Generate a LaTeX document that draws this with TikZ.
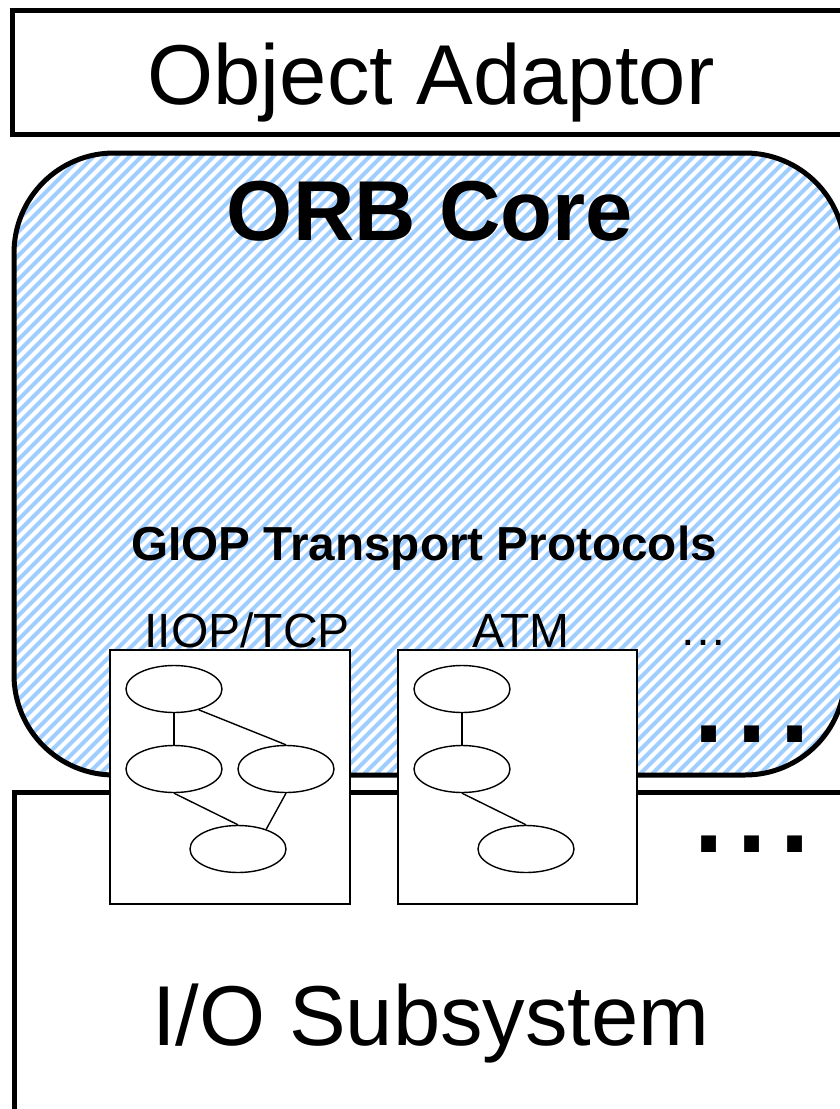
\documentclass[tikz,border=0pt]{standalone}
\usepackage{fontspec}
\usetikzlibrary{shapes.geometric}
\setmainfont{Liberation Sans}
\definecolor{hatch}{RGB}{160,207,255}
\begin{document}
\begin{tikzpicture}[x=1pt,y=-1pt,
  thickbox/.style={draw=black,line width=5pt,fill=white},
  protobox/.style={draw=black,line width=2pt,fill=white},
  ell/.style={draw=black,line width=1.4pt,ellipse,minimum width=96pt,minimum height=47pt,inner sep=0pt},
  edge/.style={draw=black,line width=1.4pt},
  lbl/.style={inner sep=0pt,anchor=base},
  bigdots/.style={lbl,font=\fontsize{155}{160}\selectfont,text height=14pt,text depth=0pt}]
\useasboundingbox (0,0) rectangle (840,1109);
\fill[white] (0,0) rectangle (840,1109);
% Object Adaptor
\draw[thickbox] (12,10) rectangle (860,134);
\node[lbl,font=\fontsize{85}{90}\selectfont] (oa) at (431,104) {Object Adaptor};
% ORB Core
\begin{scope}
  \clip[rounded corners=100pt] (14,153) rectangle (845,775);
  \foreach \x in {-660,-648,...,860}
    \draw[hatch,line width=4.2pt] (\x,790) -- (\x+660,130);
\end{scope}
\draw[draw=black,line width=5pt,rounded corners=100pt] (14,153) rectangle (845,775);
\node[lbl,font=\bfseries\fontsize{85}{90}\selectfont] (orb) at (430,240) {ORB Core};
\node[lbl,font=\bfseries\fontsize{47.7}{50}\selectfont] (giop) at (424,560) {GIOP Transport Protocols};
% I/O Subsystem
\draw[thickbox] (14,792) rectangle (860,1130);
\node[lbl,font=\fontsize{85}{90}\selectfont] (io) at (431,1045) {I/O Subsystem};
% dots
\node[bigdots] (d1) at (752,742) {...};
\node[bigdots] (d2) at (752,852) {...};
\node[lbl,font=\fontsize{48}{50}\selectfont] (d3) at (703,645) {…};
% protocol labels
\node[lbl,font=\fontsize{48}{50}\selectfont] (l1) at (247,647) {IIOP/TCP};
\node[lbl,font=\fontsize{48}{50}\selectfont] (l2) at (521,647) {ATM};
% protocol boxes
\draw[protobox] (110,650) rectangle (350,904);
\draw[protobox] (398,650) rectangle (637,904);
% IIOP graph
\node[ell] (a1) at (174,689) {};
\node[ell] (a2) at (174,769) {};
\node[ell] (a3) at (286,769) {};
\node[ell] (a4) at (238,849) {};
\draw[edge] (a1.south) -- (a2.north);
\draw[edge] (a1.-40) -- (a3.north);
\draw[edge] (a2.south) -- (a4.north);
\draw[edge] (a3.south) -- (a4.35);
% ATM graph
\node[ell] (b1) at (462,689) {};
\node[ell] (b2) at (462,769) {};
\node[ell] (b3) at (526,849) {};
\draw[edge] (b1.south) -- (b2.north);
\draw[edge] (b2.south) -- (b3.north);
\end{tikzpicture}
\end{document}
